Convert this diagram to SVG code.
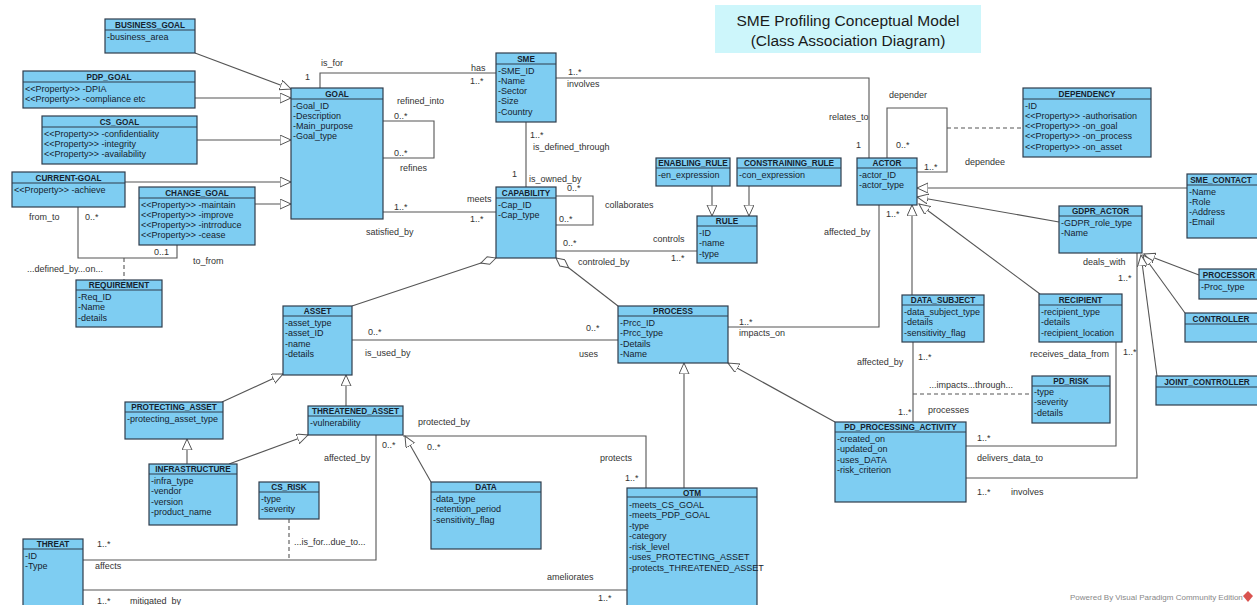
<svg xmlns="http://www.w3.org/2000/svg" width="1257" height="605" viewBox="0 0 1257 605">
<style>
.box{fill:#7ecdf2;stroke:#2f3d4c;stroke-width:1.2}
.sep{stroke:#2f3d4c;stroke-width:1}
.hd{font-family:"Liberation Sans",Arial,sans-serif;font-size:8.2px;font-weight:bold;fill:#16222e;text-anchor:middle}
.at{font-family:"Liberation Sans",Arial,sans-serif;font-size:9px;fill:#16222e}
.lb{font-family:"Liberation Sans",Arial,sans-serif;font-size:9px;fill:#333}
.cn{fill:none;stroke:#555;stroke-width:1.1}
.dash{stroke-dasharray:4,3}
.gen{marker-end:url(#tri)}
.agg{marker-start:url(#dia)}
.title{font-family:"Liberation Sans",Arial,sans-serif;font-size:15.5px;fill:#1a1a1a;text-anchor:middle}
.pw{font-family:"Liberation Sans",Arial,sans-serif;font-size:8px;fill:#888}
</style>
<defs>
<marker id="tri" markerUnits="userSpaceOnUse" markerWidth="14" markerHeight="14" refX="11" refY="5" orient="auto">
<path d="M0,0 L11,5 L0,10 z" fill="#fff" stroke="#555" stroke-width="1"/>
</marker>
<marker id="dia" markerUnits="userSpaceOnUse" markerWidth="18" markerHeight="10" refX="0" refY="4.5" orient="auto">
<path d="M0,4.5 L8,0.5 L16,4.5 L8,8.5 z" fill="#fff" stroke="#555" stroke-width="1"/>
</marker>
</defs>
<rect width="1257" height="605" fill="#fff"/>

<g id="title">
<rect x="715" y="5" width="266" height="48" fill="#cdf6fb"/>
<text class="title" x="848" y="26">SME Profiling Conceptual Model</text>
<text class="title" x="848" y="46">(Class Association Diagram)</text>
</g>

<g id="connectors">
<!-- generalizations -->
<path class="cn gen" d="M195,53 L291,89"/>
<path class="cn gen" d="M195,98 L291,98"/>
<path class="cn gen" d="M197,140 L291,140"/>
<path class="cn gen" d="M125,182 L291,182"/>
<path class="cn gen" d="M255,204 L291,204"/>
<path class="cn gen" d="M712,186 L712,216"/>
<path class="cn gen" d="M749,186 L749,216"/>
<path class="cn gen" d="M1187,188 L917,188"/>
<path class="cn gen" d="M1059,222 L917,197"/>
<path class="cn gen" d="M1040,294 L919,204"/>
<path class="cn gen" d="M912,295 L912,205"/>
<path class="cn gen" d="M1199,275 L1144,254"/>
<path class="cn gen" d="M1185,313 L1143,255"/>
<path class="cn gen" d="M1157,376 L1141,255"/>
<path class="cn gen" d="M222,402 L283,374"/>
<path class="cn gen" d="M346,406 L346,375"/>
<path class="cn gen" d="M187,464 L187,439"/>
<path class="cn gen" d="M229,464 L308,435"/>
<path class="cn gen" d="M431,482 L405,436"/>
<path class="cn gen" d="M684,488 L684,363"/>
<path class="cn gen" d="M835,422 L728,363"/>
<!-- aggregations -->
<path class="cn agg" d="M496,258 L352,306"/>
<path class="cn agg" d="M556,258 L618,306"/>
<!-- associations -->
<path class="cn" d="M320,88 L320,73 L496,73"/>
<path class="cn" d="M383,121 L434,121 L434,158 L383,158"/>
<path class="cn" d="M383,212 L496,212"/>
<path class="cn" d="M556,78 L869,78 L869,158"/>
<path class="cn" d="M526,122 L526,187"/>
<path class="cn" d="M556,196 L593,196 L593,225 L556,225"/>
<path class="cn" d="M556,251 L697,251"/>
<path class="cn" d="M887,158 L887,108 L947,108 L947,172 L917,172"/>
<path class="cn dash" d="M947,128 L1023,128"/>
<path class="cn" d="M728,327 L879,327 L879,205"/>
<path class="cn" d="M352,340 L618,340"/>
<path class="cn" d="M913,342 L913,422"/>
<path class="cn dash" d="M913,394 L1032,394"/>
<path class="cn" d="M1116,342 L1116,446 L966,446"/>
<path class="cn" d="M1137,253 L1137,478 L966,478"/>
<path class="cn" d="M78,207 L78,258 L177,258 L177,245"/>
<path class="cn dash" d="M124,258 L124,280"/>
<path class="cn" d="M403,436 L646,436 L646,488"/>
<path class="cn" d="M376,435 L376,560 L83,560"/>
<path class="cn dash" d="M289,519 L289,560"/>
<path class="cn" d="M83,590 L627,590"/>
</g>

<g id="labels">
<text class="lb" x="305" y="80">1</text>
<text class="lb" x="321" y="66">is_for</text>
<text class="lb" x="471" y="71">has</text>
<text class="lb" x="470" y="84">1..*</text>
<text class="lb" x="397" y="104">refined_into</text>
<text class="lb" x="394" y="119">0..*</text>
<text class="lb" x="394" y="156">0..*</text>
<text class="lb" x="400" y="171">refines</text>
<text class="lb" x="568" y="75">1..*</text>
<text class="lb" x="567" y="87">involves</text>
<text class="lb" x="829" y="120">relates_to</text>
<text class="lb" x="856" y="148">1</text>
<text class="lb" x="889" y="98">depender</text>
<text class="lb" x="896" y="148">0..*</text>
<text class="lb" x="924" y="170">1..*</text>
<text class="lb" x="965" y="165">dependee</text>
<text class="lb" x="530" y="138">1..*</text>
<text class="lb" x="533" y="150">is_defined_through</text>
<text class="lb" x="512" y="177">1</text>
<text class="lb" x="529" y="182">is_owned_by</text>
<text class="lb" x="567" y="191">0..*</text>
<text class="lb" x="467" y="202">meets</text>
<text class="lb" x="394" y="210">1..*</text>
<text class="lb" x="470" y="222">1..*</text>
<text class="lb" x="366" y="235">satisfied_by</text>
<text class="lb" x="605" y="208">collaborates</text>
<text class="lb" x="559" y="222">0..*</text>
<text class="lb" x="563" y="246">0..*</text>
<text class="lb" x="578" y="265">controled_by</text>
<text class="lb" x="653" y="242">controls</text>
<text class="lb" x="671" y="261">1..*</text>
<text class="lb" x="824" y="235">affected_by</text>
<text class="lb" x="886" y="217">1..*</text>
<text class="lb" x="739" y="325">1..*</text>
<text class="lb" x="739" y="336">impacts_on</text>
<text class="lb" x="368" y="335">0..*</text>
<text class="lb" x="365" y="356">is_used_by</text>
<text class="lb" x="586" y="331">0..*</text>
<text class="lb" x="579" y="357">uses</text>
<text class="lb" x="1083" y="265">deals_with</text>
<text class="lb" x="1118" y="281">1..*</text>
<text class="lb" x="1030" y="357">receives_data_from</text>
<text class="lb" x="1123" y="355">1..*</text>
<text class="lb" x="857" y="365">affected_by</text>
<text class="lb" x="918" y="360">1..*</text>
<text class="lb" x="929" y="388">...impacts...through...</text>
<text class="lb" x="898" y="415">1..*</text>
<text class="lb" x="928" y="413">processes</text>
<text class="lb" x="977" y="441">1..*</text>
<text class="lb" x="977" y="461">delivers_data_to</text>
<text class="lb" x="977" y="495">1..*</text>
<text class="lb" x="1011" y="495">involves</text>
<text class="lb" x="29" y="220">from_to</text>
<text class="lb" x="85" y="220">0..*</text>
<text class="lb" x="154" y="255">0..1</text>
<text class="lb" x="193" y="264">to_from</text>
<text class="lb" x="27" y="272">...defined_by...on...</text>
<text class="lb" x="418" y="425">protected_by</text>
<text class="lb" x="382" y="448">0..*</text>
<text class="lb" x="427" y="450">0..*</text>
<text class="lb" x="324" y="461">affected_by</text>
<text class="lb" x="600" y="461">protects</text>
<text class="lb" x="625" y="481">1..*</text>
<text class="lb" x="294" y="545">...is_for...due_to...</text>
<text class="lb" x="97" y="547">1..*</text>
<text class="lb" x="95" y="569">affects</text>
<text class="lb" x="547" y="580">ameliorates</text>
<text class="lb" x="598" y="601">1..*</text>
<text class="lb" x="97" y="604">1..*</text>
<text class="lb" x="130" y="604">mitigated_by</text>
</g>

<g id="business_goal">
<rect class="box" x="105" y="19" width="90" height="34"/><line class="sep" x1="105" y1="30" x2="195" y2="30"/>
<text class="hd" x="150" y="27.5">BUSINESS_GOAL</text>
<text class="at" x="107" y="39.5">-business_area</text>
</g>
<g id="pdp_goal">
<rect class="box" x="23" y="71" width="172" height="37"/><line class="sep" x1="23" y1="82" x2="195" y2="82"/>
<text class="hd" x="109" y="79.5">PDP_GOAL</text>
<text class="at" x="25" y="91.5">&lt;&lt;Property&gt;&gt; -DPIA</text>
<text class="at" x="25" y="101.8">&lt;&lt;Property&gt;&gt; -compliance etc</text>
</g>
<g id="cs_goal">
<rect class="box" x="42" y="116" width="155" height="48"/><line class="sep" x1="42" y1="127" x2="197" y2="127"/>
<text class="hd" x="119.5" y="124.5">CS_GOAL</text>
<text class="at" x="44" y="136.5">&lt;&lt;Property&gt;&gt; -confidentiality</text>
<text class="at" x="44" y="146.8">&lt;&lt;Property&gt;&gt; -integrity</text>
<text class="at" x="44" y="157.1">&lt;&lt;Property&gt;&gt; -availability</text>
</g>
<g id="current_goal">
<rect class="box" x="12" y="172" width="113" height="35"/><line class="sep" x1="12" y1="183" x2="125" y2="183"/>
<text class="hd" x="68.5" y="180.5">CURRENT-GOAL</text>
<text class="at" x="14" y="192.5">&lt;&lt;Property&gt;&gt; -achieve</text>
</g>
<g id="change_goal">
<rect class="box" x="139" y="187" width="116" height="58"/><line class="sep" x1="139" y1="198" x2="255" y2="198"/>
<text class="hd" x="197" y="195.5">CHANGE_GOAL</text>
<text class="at" x="141" y="207.5">&lt;&lt;Property&gt;&gt; -maintain</text>
<text class="at" x="141" y="217.8">&lt;&lt;Property&gt;&gt; -improve</text>
<text class="at" x="141" y="228.1">&lt;&lt;Property&gt;&gt; -intrroduce</text>
<text class="at" x="141" y="238.4">&lt;&lt;Property&gt;&gt; -cease</text>
</g>
<g id="goal">
<rect class="box" x="291" y="88" width="92" height="131"/><line class="sep" x1="291" y1="99" x2="383" y2="99"/>
<text class="hd" x="337" y="96.5">GOAL</text>
<text class="at" x="293" y="108.5">-Goal_ID</text>
<text class="at" x="293" y="118.8">-Description</text>
<text class="at" x="293" y="129.1">-Main_purpose</text>
<text class="at" x="293" y="139.4">-Goal_type</text>
</g>
<g id="requirement">
<rect class="box" x="76" y="280" width="86" height="47"/><line class="sep" x1="76" y1="290" x2="162" y2="290"/>
<text class="hd" x="119" y="288">REQUIREMENT</text>
<text class="at" x="78" y="300">-Req_ID</text>
<text class="at" x="78" y="310.3">-Name</text>
<text class="at" x="78" y="320.6">-details</text>
</g>
<g id="sme">
<rect class="box" x="496" y="53" width="60" height="69"/><line class="sep" x1="496" y1="64" x2="556" y2="64"/>
<text class="hd" x="526" y="61.5">SME</text>
<text class="at" x="498" y="73.5">-SME_ID</text>
<text class="at" x="498" y="83.8">-Name</text>
<text class="at" x="498" y="94.1">-Sector</text>
<text class="at" x="498" y="104.4">-Size</text>
<text class="at" x="498" y="114.7">-Country</text>
</g>
<g id="capability">
<rect class="box" x="496" y="187" width="60" height="71"/><line class="sep" x1="496" y1="198" x2="556" y2="198"/>
<text class="hd" x="526" y="195.5">CAPABILITY</text>
<text class="at" x="498" y="207.5">-Cap_ID</text>
<text class="at" x="498" y="217.8">-Cap_type</text>
</g>
<g id="enabling_rule">
<rect class="box" x="656" y="158" width="74" height="28"/><line class="sep" x1="656" y1="168" x2="730" y2="168"/>
<text class="hd" x="693" y="166">ENABLING_RULE</text>
<text class="at" x="658" y="177.5">-en_expression</text>
</g>
<g id="constraining_rule">
<rect class="box" x="737" y="158" width="104" height="28"/><line class="sep" x1="737" y1="168" x2="841" y2="168"/>
<text class="hd" x="789" y="166">CONSTRAINING_RULE</text>
<text class="at" x="739" y="177.5">-con_expression</text>
</g>
<g id="rule">
<rect class="box" x="697" y="216" width="60" height="47"/><line class="sep" x1="697" y1="226" x2="757" y2="226"/>
<text class="hd" x="727" y="224">RULE</text>
<text class="at" x="699" y="236">-ID</text>
<text class="at" x="699" y="246.3">-name</text>
<text class="at" x="699" y="256.6">-type</text>
</g>
<g id="actor">
<rect class="box" x="857" y="158" width="60" height="47"/><line class="sep" x1="857" y1="168" x2="917" y2="168"/>
<text class="hd" x="887" y="166">ACTOR</text>
<text class="at" x="859" y="177.5">-actor_ID</text>
<text class="at" x="859" y="187.8">-actor_type</text>
</g>
<g id="dependency">
<rect class="box" x="1023" y="88" width="128" height="69"/><line class="sep" x1="1023" y1="99" x2="1151" y2="99"/>
<text class="hd" x="1087" y="96.5">DEPENDENCY</text>
<text class="at" x="1025" y="108.5">-ID</text>
<text class="at" x="1025" y="118.8">&lt;&lt;Property&gt;&gt; -authorisation</text>
<text class="at" x="1025" y="129.1">&lt;&lt;Property&gt;&gt; -on_goal</text>
<text class="at" x="1025" y="139.4">&lt;&lt;Property&gt;&gt; -on_process</text>
<text class="at" x="1025" y="149.7">&lt;&lt;Property&gt;&gt; -on_asset</text>
</g>
<g id="sme_contact">
<rect class="box" x="1187" y="174" width="76" height="64"/><line class="sep" x1="1187" y1="185" x2="1263" y2="185"/>
<text class="hd" x="1221" y="182.5">SME_CONTACT</text>
<text class="at" x="1189" y="194.5">-Name</text>
<text class="at" x="1189" y="204.8">-Role</text>
<text class="at" x="1189" y="215.1">-Address</text>
<text class="at" x="1189" y="225.4">-Email</text>
</g>
<g id="gdpr_actor">
<rect class="box" x="1059" y="206" width="83" height="47"/><line class="sep" x1="1059" y1="216" x2="1142" y2="216"/>
<text class="hd" x="1100.5" y="214">GDPR_ACTOR</text>
<text class="at" x="1061" y="225.5">-GDPR_role_type</text>
<text class="at" x="1061" y="235.8">-Name</text>
</g>
<g id="processor">
<rect class="box" x="1199" y="269" width="64" height="30"/><line class="sep" x1="1199" y1="280" x2="1263" y2="280"/>
<text class="hd" x="1229" y="277.5">PROCESSOR</text>
<text class="at" x="1201" y="289.5">-Proc_type</text>
</g>
<g id="controller">
<rect class="box" x="1185" y="313" width="78" height="29"/><line class="sep" x1="1185" y1="324" x2="1263" y2="324"/>
<text class="hd" x="1221" y="321.5">CONTROLLER</text>
</g>
<g id="joint_controller">
<rect class="box" x="1156" y="376" width="107" height="29"/><line class="sep" x1="1156" y1="387" x2="1263" y2="387"/>
<text class="hd" x="1207" y="384.5">JOINT_CONTROLLER</text>
</g>
<g id="data_subject">
<rect class="box" x="902" y="295" width="82" height="47"/><line class="sep" x1="902" y1="305" x2="984" y2="305"/>
<text class="hd" x="943" y="303">DATA_SUBJECT</text>
<text class="at" x="904" y="315">-data_subject_type</text>
<text class="at" x="904" y="325.3">-details</text>
<text class="at" x="904" y="335.6">-sensitivity_flag</text>
</g>
<g id="recipient">
<rect class="box" x="1039" y="294" width="83" height="48"/><line class="sep" x1="1039" y1="305" x2="1122" y2="305"/>
<text class="hd" x="1080.5" y="302.5">RECIPIENT</text>
<text class="at" x="1041" y="315">-recipient_type</text>
<text class="at" x="1041" y="325.3">-details</text>
<text class="at" x="1041" y="335.6">-recipient_location</text>
</g>
<g id="pd_risk">
<rect class="box" x="1032" y="376" width="78" height="47"/><line class="sep" x1="1032" y1="386" x2="1110" y2="386"/>
<text class="hd" x="1071" y="384">PD_RISK</text>
<text class="at" x="1034" y="395">-type</text>
<text class="at" x="1034" y="405.3">-severity</text>
<text class="at" x="1034" y="415.6">-details</text>
</g>
<g id="pd_processing_activity">
<rect class="box" x="835" y="422" width="131" height="80"/><line class="sep" x1="835" y1="432" x2="966" y2="432"/>
<text class="hd" x="900.5" y="430">PD_PROCESSING_ACTIVITY</text>
<text class="at" x="837" y="442">-created_on</text>
<text class="at" x="837" y="452.3">-updated_on</text>
<text class="at" x="837" y="462.6">-uses_DATA</text>
<text class="at" x="837" y="472.9">-risk_criterion</text>
</g>
<g id="process">
<rect class="box" x="618" y="306" width="110" height="57"/><line class="sep" x1="618" y1="316" x2="728" y2="316"/>
<text class="hd" x="673" y="314">PROCESS</text>
<text class="at" x="620" y="326">-Prcc_ID</text>
<text class="at" x="620" y="336.3">-Prcc_type</text>
<text class="at" x="620" y="346.6">-Details</text>
<text class="at" x="620" y="356.9">-Name</text>
</g>
<g id="asset">
<rect class="box" x="283" y="306" width="69" height="69"/><line class="sep" x1="283" y1="316" x2="352" y2="316"/>
<text class="hd" x="317.5" y="314">ASSET</text>
<text class="at" x="285" y="326">-asset_type</text>
<text class="at" x="285" y="336.3">-asset_ID</text>
<text class="at" x="285" y="346.6">-name</text>
<text class="at" x="285" y="356.9">-details</text>
</g>
<g id="protecting_asset">
<rect class="box" x="125" y="402" width="98" height="37"/><line class="sep" x1="125" y1="412" x2="223" y2="412"/>
<text class="hd" x="174" y="410">PROTECTING_ASSET</text>
<text class="at" x="127" y="422">-protecting_asset_type</text>
</g>
<g id="threatened_asset">
<rect class="box" x="308" y="406" width="95" height="29"/><line class="sep" x1="308" y1="416" x2="403" y2="416"/>
<text class="hd" x="355.5" y="414">THREATENED_ASSET</text>
<text class="at" x="310" y="425.5">-vulnerability</text>
</g>
<g id="infrastructure">
<rect class="box" x="149" y="464" width="88" height="61"/><line class="sep" x1="149" y1="474" x2="237" y2="474"/>
<text class="hd" x="193" y="472">INFRASTRUCTURE</text>
<text class="at" x="151" y="484">-infra_type</text>
<text class="at" x="151" y="494.3">-vendor</text>
<text class="at" x="151" y="504.6">-version</text>
<text class="at" x="151" y="514.9">-product_name</text>
</g>
<g id="cs_risk">
<rect class="box" x="259" y="482" width="60" height="37"/><line class="sep" x1="259" y1="492" x2="319" y2="492"/>
<text class="hd" x="289" y="490">CS_RISK</text>
<text class="at" x="261" y="502">-type</text>
<text class="at" x="261" y="512.3">-severity</text>
</g>
<g id="data">
<rect class="box" x="431" y="482" width="110" height="67"/><line class="sep" x1="431" y1="492" x2="541" y2="492"/>
<text class="hd" x="486" y="490">DATA</text>
<text class="at" x="433" y="502">-data_type</text>
<text class="at" x="433" y="512.3">-retention_period</text>
<text class="at" x="433" y="522.6">-sensitivity_flag</text>
</g>
<g id="threat">
<rect class="box" x="23" y="539" width="60" height="72"/><line class="sep" x1="23" y1="549" x2="83" y2="549"/>
<text class="hd" x="53" y="547">THREAT</text>
<text class="at" x="25" y="559">-ID</text>
<text class="at" x="25" y="569.3">-Type</text>
</g>
<g id="otm">
<rect class="box" x="627" y="488" width="130" height="125"/><line class="sep" x1="627" y1="497" x2="757" y2="497"/>
<text class="hd" x="692" y="495.5">OTM</text>
<text class="at" x="629" y="507.5">-meets_CS_GOAL</text>
<text class="at" x="629" y="518">-meets_PDP_GOAL</text>
<text class="at" x="629" y="528.5">-type</text>
<text class="at" x="629" y="539">-category</text>
<text class="at" x="629" y="549.5">-risk_level</text>
<text class="at" x="629" y="560">-uses_PROTECTING_ASSET</text>
<text class="at" x="629" y="570.5">-protects_THREATENED_ASSET</text>
</g>

<g id="footer">
<text class="pw" x="1070" y="600">Powered By Visual Paradigm Community Edition</text>
<path d="M1248,591 L1253,596 L1248,602 L1243,596 z" fill="#d9534f"/>
</g>
</svg>
